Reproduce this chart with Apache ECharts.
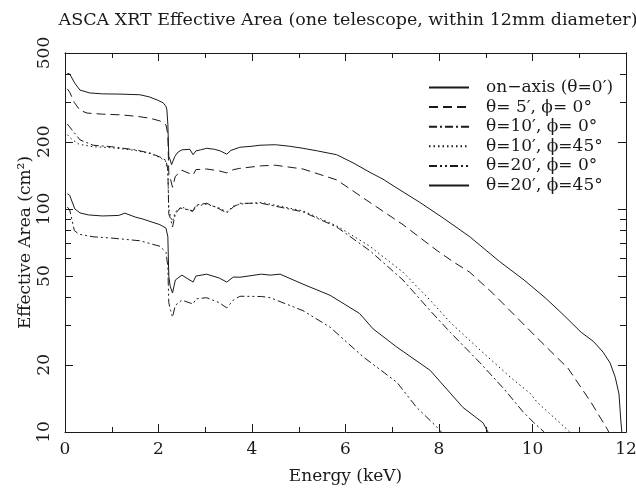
<!DOCTYPE html>
<html><head><meta charset="utf-8">
<script src="https://cdn.jsdelivr.net/npm/echarts@6/dist/echarts.min.js"></script>
<style>html,body{margin:0;padding:0;background:#fff}#c{width:636px;height:495px}</style>
</head><body><div id="c"></div>
<script>
// ---- data (energy keV, effective area cm^2) ----
const seriesNames = ['on\u2212axis (\u03b8=0\u2032)', '\u03b8= 5\u2032, \u03d5= 0\u00b0', '\u03b8=10\u2032, \u03d5= 0\u00b0', '\u03b8=10\u2032, \u03d5=45\u00b0', '\u03b8=20\u2032, \u03d5= 0\u00b0', '\u03b8=20\u2032, \u03d5=45\u00b0'];

const E_on = [0.05,0.1,0.21,0.32,0.53,0.8,1.2,1.6,1.8,1.97,2.1,2.16,2.18,2.2,2.22,2.25,2.28,2.31,2.35,2.42,2.5,2.67,2.74,2.8,2.9,3.03,3.2,3.32,3.46,3.55,3.74,4.0,4.17,4.5,4.8,5.09,5.4,5.81,6.16,6.52,6.8,7.1,7.59,8.09,8.66,9.3,9.82,10.27,10.63,11.04,11.3,11.51,11.66,11.77,11.85,11.89,11.92];
const A_on = [405,403,366,341,331,328,327,325,318,308,299,288,278,240,172,166,158,160,172,180,184,185,175,182,184,187,185,182,176,183,189,191,193,194,191,187,182,175,161,146,136,124,107,91,75,58,48,40,34,28,25.5,22.8,20.4,17.6,14.8,11.2,9.5];

const E_5 = [0.05,0.1,0.2,0.32,0.47,0.8,1.2,1.54,1.82,2.03,2.16,2.2,2.22,2.26,2.3,2.36,2.5,2.74,2.8,3.03,3.3,3.46,3.6,3.74,4.2,4.5,5.09,5.81,6.52,7.23,7.96,8.3,8.66,9.17,10.1,10.76,11.25,11.6,11.65];
const A_5 = [345,334,300,277,269,266,264,260,255,248,238,215,145,135,125,140,149,142,150,151,148,145,150,152,156,157,151,135,107,85,65,58,52,41.5,26.4,19.3,13.6,10.3,9.8];

const E_10a = [0.05,0.1,0.32,0.6,1.0,1.5,1.82,2.03,2.16,2.2,2.22,2.26,2.3,2.36,2.46,2.74,2.8,3.03,3.3,3.46,3.6,3.74,4.2,4.39,5.09,5.81,6.52,7.23,7.81,8.24,8.88,9.39,9.8,10.03,10.25];
const A_10a = [240,233,204,193,190,184,178,171,165,150,95,90,83,95,101,98,104,106,100,96,102,106,106,104,97,83,65,48,35,28,20.4,15.6,12.3,11,10];

const E_10b = [0.05,0.15,0.3,0.6,1.0,1.5,1.82,2.03,2.16,2.2,2.22,2.26,2.3,2.36,2.5,2.74,2.8,3.03,3.3,3.46,3.6,3.74,4.2,4.39,5.09,5.81,6.52,7.23,7.81,8.24,8.88,9.54,9.95,10.1,10.8,10.85];
const A_10b = [215,205,195,190,188,183,177,170,163,148,100,92,88,97,102,97,103,105,101,97,103,105,107,105,98,84,68,52,39,31,23.3,17.5,14.9,13.6,10,9.8];

const E_20a = [0.05,0.1,0.2,0.3,0.6,1.0,1.6,2.03,2.16,2.2,2.22,2.26,2.3,2.36,2.5,2.74,2.8,3.03,3.3,3.46,3.6,3.74,4.2,4.39,5.09,5.67,6.38,7.1,7.52,7.96,8.05];
const A_20a = [102,99,80,77,75,74,72,68,64,55,38,35,32.7,37,39,37.5,39.5,40,38,36,39,40.6,40.5,40,35,29.5,21.7,16.7,12.9,10.5,10];

const E_20b = [0.05,0.1,0.21,0.32,0.5,0.8,1.15,1.28,1.5,1.67,2.03,2.16,2.2,2.22,2.25,2.3,2.36,2.5,2.74,2.8,3.03,3.3,3.46,3.6,3.74,4.2,4.39,4.6,5.09,5.67,6.3,6.59,7.1,7.81,8.51,8.94,9.05];
const A_20b = [117,115,100,96,94,93,93.5,95.7,92,90,85,82,75,50,45,42,48,50.5,47,50,51,49,47,49.5,49.4,51,50.5,51,46,41,34,29,24,18.9,12.9,11,10];

const xMax = 12, xStep = 2;
const yMin = 10, yMax = 500;
const yLabels = [10, 20, 50, 100, 200, 500];
const yMinor = [30, 40, 60, 70, 80, 90, 300, 400];

// ---- chart ----
const INK = '#1a1a1a';
const FONT = 'DejaVu Serif';
const FS = 17;
const dashes = ['solid', [9, 5], [8, 3, 2, 3], [1.5, 3], [8, 3, 2, 3, 2, 3], 'solid'];
const sets = [[E_on, A_on], [E_5, A_5], [E_10a, A_10a], [E_10b, A_10b], [E_20a, A_20a], [E_20b, A_20b]];

const series = sets.map((s, i) => ({
  name: seriesNames[i],
  type: 'line',
  xAxisIndex: 0, yAxisIndex: 0,
  symbol: 'none',
  showSymbol: false,
  animation: false,
  lineStyle: { color: INK, width: 1, type: dashes[i] },
  itemStyle: { color: INK },
  data: s[0].map((e, k) => [e, s[1][k]])
}));

function xAx(pos, labels) {
  return {
    type: 'value', position: pos, min: 0, max: xMax, interval: xStep,
    axisLine: { show: true, onZero: false, lineStyle: { color: INK, width: 1 } },
    axisTick: { show: true, inside: true, length: 8, lineStyle: { color: INK, width: 1 } },
    minorTick: { show: true, splitNumber: 2, length: 5, lineStyle: { color: INK, width: 1 } },
    splitLine: { show: false },
    axisLabel: { show: labels, margin: 9, color: INK, fontFamily: FONT, fontSize: FS },
    name: labels ? 'Energy (keV)' : '', nameLocation: 'middle', nameGap: 36, nameMoveOverlap: false,
    nameTextStyle: { color: INK, fontFamily: FONT, fontSize: FS }
  };
}
function yAx(pos, ticks, len, labels) {
  return {
    type: 'log', logBase: 10, position: pos, min: yMin, max: yMax,
    axisLine: { show: true, lineStyle: { color: INK, width: 1 } },
    axisTick: { show: true, inside: true, length: len, customValues: ticks, lineStyle: { color: INK, width: 1 } },
    splitLine: { show: false },
    axisLabel: { show: labels, customValues: yLabels, rotate: 90, margin: 12, color: INK, fontFamily: FONT, fontSize: FS },
    name: labels ? 'Effective Area (cm\u00b2)' : '', nameLocation: 'middle', nameGap: 31, nameMoveOverlap: false,
    nameTextStyle: { color: INK, fontFamily: FONT, fontSize: FS }
  };
}

const chart = echarts.init(document.getElementById('c'), null, { renderer: 'canvas' });
chart.setOption({
  animation: false,
  backgroundColor: '#fff',
  title: {
    text: 'ASCA XRT Effective Area (one telescope, within 12mm diameter)',
    left: 343, top: 6, textAlign: 'center',
    textStyle: { color: INK, fontFamily: FONT, fontSize: 17.5, fontWeight: 'normal' }
  },
  grid: { left: 65, right: 10, top: 53, bottom: 63, outerBoundsMode: 'none', containLabel: false },
  legend: {
    orient: 'vertical', left: 428, top: 79, padding: 0,
    itemWidth: 40, itemHeight: 12, itemGap: 2.6,
    itemStyle: { opacity: 0, borderWidth: 0 },
    textStyle: { color: INK, fontFamily: FONT, fontSize: FS, lineHeight: 17, padding: [0, 0, 0, 12] },
    data: seriesNames
  },
  xAxis: [xAx('bottom', true), xAx('top', false)],
  yAxis: [yAx('left', yLabels, 8, true), yAx('left', yMinor, 6, false), yAx('right', yLabels, 8, false), yAx('right', yMinor, 6, false)],
  series: series
});
</script></body></html>
